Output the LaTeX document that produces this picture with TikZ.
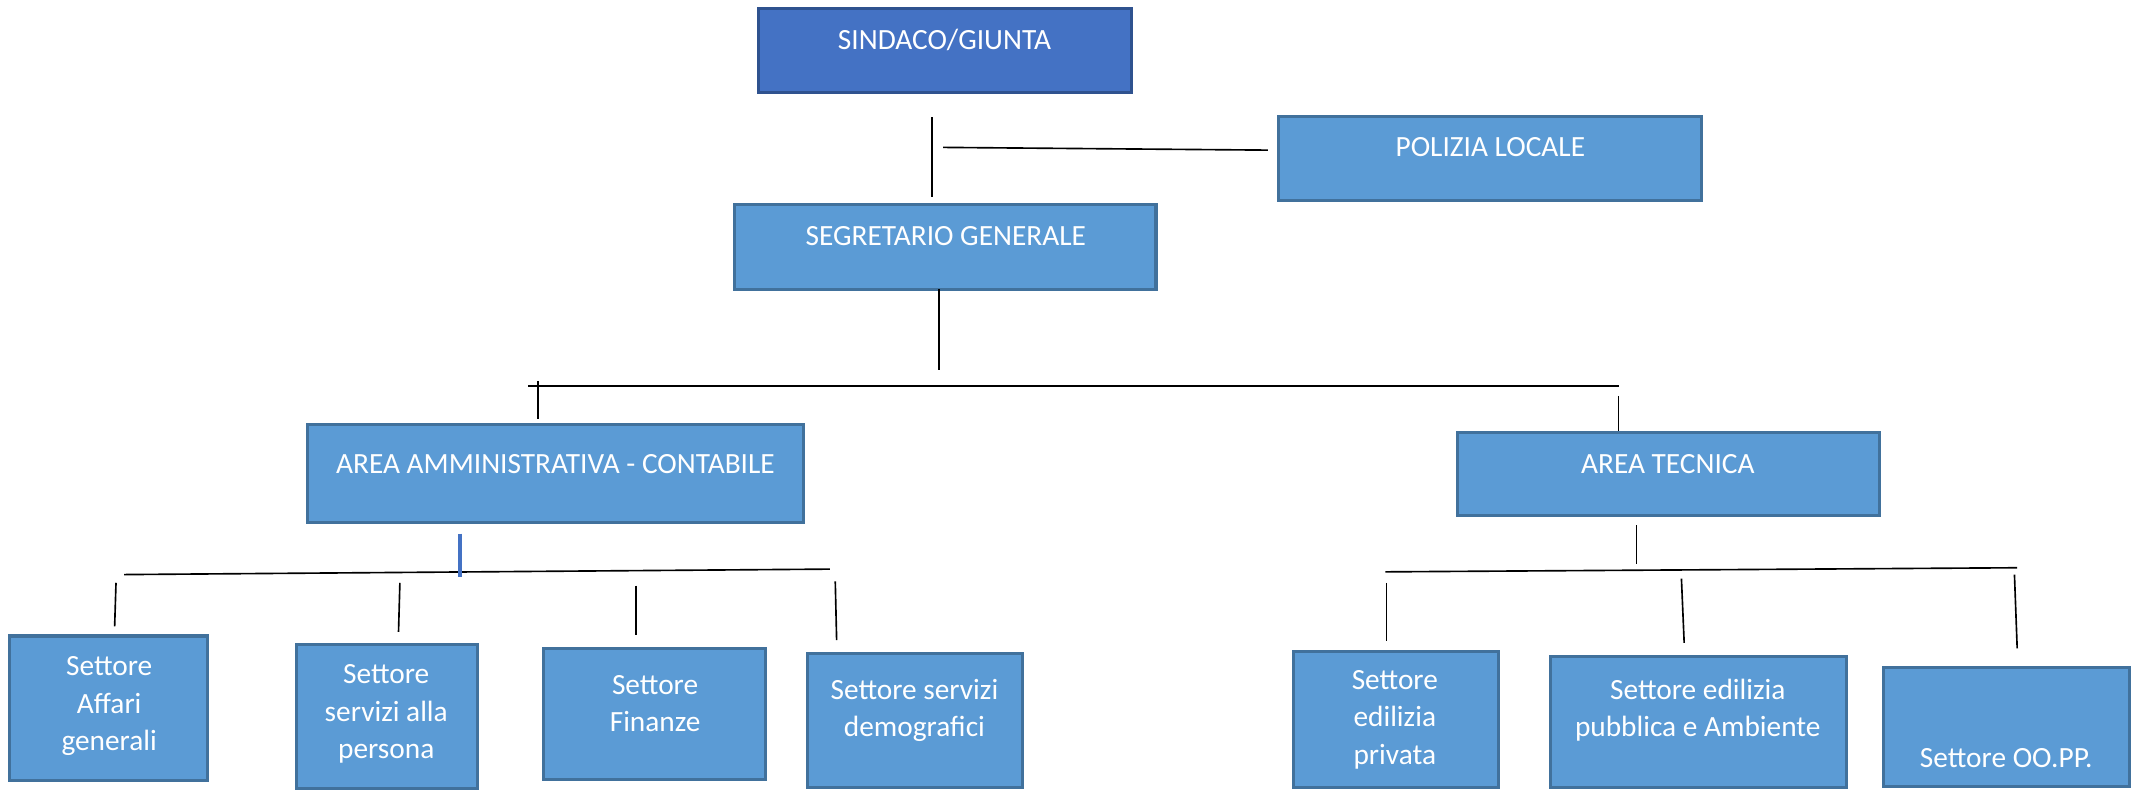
\documentclass[tikz,border=0pt]{standalone}
\usepackage{fontspec}
\setmainfont{Carlito}
\definecolor{darkfill}{HTML}{4472C4}
\definecolor{darkline}{HTML}{2F528F}
\definecolor{lightfill}{HTML}{5B9BD5}
\definecolor{lightline}{HTML}{41719C}
\begin{document}
\begin{tikzpicture}[x=1bp,y=-1bp,
  boxbase/.style={rectangle,inner sep=0pt,line width=2.2bp},
  topbox/.style={boxbase,fill=darkfill,draw=darkline},
  unitbox/.style={boxbase,fill=lightfill,draw=lightline},
  txt/.style={text=white,anchor=base,align=center,inner sep=0pt,
    font=\fontsize{21.5bp}{27.5bp}\selectfont},
  link/.style={black,line width=1.2bp},
  bluelink/.style={darkfill,line width=3.2bp}]
\useasboundingbox (0,0) rectangle (1568,579);
% boxes
\node[topbox,minimum width=273bp,minimum height=62bp] (sind) at (692.5,37) {};
\node[unitbox,minimum width=310bp,minimum height=62bp] (pol) at (1092,116) {};
\node[unitbox,minimum width=309bp,minimum height=62bp] (seg) at (692.5,181) {};
\node[unitbox,minimum width=364bp,minimum height=72bp] (aam) at (407,347) {};
\node[unitbox,minimum width=309bp,minimum height=61bp] (atec) at (1222.5,347.5) {};
\node[unitbox,minimum width=145bp,minimum height=106bp] (s1) at (79.5,519) {};
\node[unitbox,minimum width=133bp,minimum height=106bp] (s2) at (283.5,525) {};
\node[unitbox,minimum width=163bp,minimum height=96bp] (s3) at (479.5,523) {};
\node[unitbox,minimum width=157bp,minimum height=98bp] (s4) at (670.5,528) {};
\node[unitbox,minimum width=150bp,minimum height=100bp] (s5) at (1023,527) {};
\node[unitbox,minimum width=217bp,minimum height=96bp] (s6) at (1244.5,529) {};
\node[unitbox,minimum width=180bp,minimum height=87bp] (s7) at (1470,532.5) {};
% texts (anchor=base is the baseline of the last line)
\node[txt] (tsind) at (692,36.5) {SINDACO/GIUNTA};
\node[txt] (tpol) at (1092,115) {POLIZIA LOCALE};
\node[txt] (tseg) at (693,180) {SEGRETARIO GENERALE};
\node[txt] (taam) at (407,347) {AREA AMMINISTRATIVA - CONTABILE};
\node[txt] (tatec) at (1222,347) {AREA TECNICA};
\node[txt] (ts1) at (80,550) {Settore\\Affari\\generali};
\node[txt] (ts2) at (283,556) {Settore\\servizi alla\\persona};
\node[txt] (ts3) at (480,536) {Settore\\Finanze};
\node[txt] (ts4) at (670,540) {Settore servizi\\demografici};
\node[txt] (ts5) at (1022,560) {Settore\\edilizia\\privata};
\node[txt] (ts6) at (1244,540) {Settore edilizia\\pubblica e Ambiente};
\node[txt] (ts7) at (1470,562) {Settore OO.PP.};
% connector end points
\coordinate (a1) at (683,86);   \coordinate (a2) at (683,144);
\coordinate (b1) at (691,108);  \coordinate (b2) at (929,110);
\coordinate (c1) at (688,212);  \coordinate (c2) at (688,271);
\coordinate (d1) at (387,283);  \coordinate (d2) at (1186,283);
\coordinate (e1) at (394,279);  \coordinate (e2) at (394,307);
\coordinate (f1) at (1186,290); \coordinate (f2) at (1186,316);
\coordinate (g1) at (337,391);  \coordinate (g2) at (337,423);
\coordinate (h1) at (91,421);   \coordinate (h2) at (608,417);
\coordinate (i1) at (85,427);   \coordinate (i2) at (84,459);
\coordinate (j1) at (293,427);  \coordinate (j2) at (292,463);
\coordinate (k1) at (466,429);  \coordinate (k2) at (466,465);
\coordinate (l1) at (612,426);  \coordinate (l2) at (613,469);
\coordinate (m1) at (1199,385); \coordinate (m2) at (1199,413);
\coordinate (n1) at (1015,419); \coordinate (n2) at (1478,416);
\coordinate (o1) at (1016,427); \coordinate (o2) at (1016,470);
\coordinate (p1) at (1232,424); \coordinate (p2) at (1234,471);
\coordinate (q1) at (1476,421); \coordinate (q2) at (1478,475);
% connectors
\draw[link] (a1) -- (a2);
\draw[link] (b1) -- (b2);
\draw[link] (c1) -- (c2);
\draw[link] (d1) -- (d2);
\draw[link] (e1) -- (e2);
\draw[link] (f1) -- (f2);
\draw[link] (h1) -- (h2);
\draw[bluelink] (g1) -- (g2);
\draw[link] (i1) -- (i2);
\draw[link] (j1) -- (j2);
\draw[link] (k1) -- (k2);
\draw[link] (l1) -- (l2);
\draw[link] (m1) -- (m2);
\draw[link] (n1) -- (n2);
\draw[link] (o1) -- (o2);
\draw[link] (p1) -- (p2);
\draw[link] (q1) -- (q2);
\end{tikzpicture}
\end{document}
